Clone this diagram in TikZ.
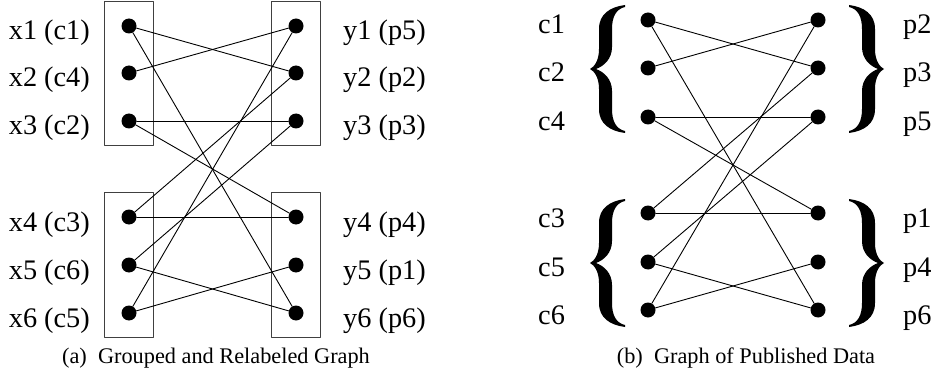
\documentclass[tikz,border=0pt]{standalone}
\usepackage{fontspec}
\setmainfont{Liberation Serif}
\usetikzlibrary{fit}

\begin{document}
\begin{tikzpicture}[x=1pt,y=-1pt,line cap=round,line join=round]
\useasboundingbox (0,0) rectangle (937,377);
\tikzset{dot/.style={circle,fill=black,inner sep=0pt,minimum size=15pt},edge/.style={draw=black,line width=0.9pt},groupbox/.style={draw=black!75,line width=1pt,inner sep=16.5pt},lbl/.style={font=\fontsize{28.3}{32}\selectfont,inner sep=0pt},captext/.style={font=\fontsize{22.3}{26}\selectfont,inner sep=0pt}}
\tikzset{leftbrace/.pic={\fill (17,-64) .. controls (2,-62) and (-9,-55) .. (-9,-40) -- (-9,-20) .. controls (-9,-8) and (-14,-2) .. (-18,0) .. controls (-14,2) and (-9,8) .. (-9,20) -- (-9,40) .. controls (-9,55) and (2,62) .. (17,64) -- (17,62) .. controls (8,60) and (4,52) .. (4,40) -- (4,22) .. controls (4,10) and (-4,3) .. (-12,0) .. controls (-4,-3) and (4,-10) .. (4,-22) -- (4,-40) .. controls (4,-52) and (8,-60) .. (17,-62) -- cycle;}}
% (a) grouped and relabeled graph
\node[dot] (x1) at (129,26) {}; \node[dot] (x2) at (129,73) {}; \node[dot] (x3) at (129,121) {};
\node[dot] (x4) at (129,217) {}; \node[dot] (x5) at (129,265) {}; \node[dot] (x6) at (129,313) {};
\node[dot] (y1) at (296,26) {}; \node[dot] (y2) at (296,73) {}; \node[dot] (y3) at (296,121) {};
\node[dot] (y4) at (296,217) {}; \node[dot] (y5) at (296,265) {}; \node[dot] (y6) at (296,313) {};
\node[groupbox,fit=(x1)(x3)] (gx1) {}; \node[groupbox,fit=(x4)(x6)] (gx2) {};
\node[groupbox,fit=(y1)(y3)] (gy1) {}; \node[groupbox,fit=(y4)(y6)] (gy2) {};
\draw[edge] (x1) -- (y2); \draw[edge] (x1) -- (y6); \draw[edge] (x2) -- (y1);
\draw[edge] (x3) -- (y3); \draw[edge] (x3) -- (y4); \draw[edge] (x4) -- (y2);
\draw[edge] (x4) -- (y4); \draw[edge] (x5) -- (y3); \draw[edge] (x5) -- (y6);
\draw[edge] (x6) -- (y1); \draw[edge] (x6) -- (y5);
\node[lbl,anchor=base east] (lx1) at (90,40) {x1 (c1)};
\node[lbl,anchor=base east] (lx2) at (90,87) {x2 (c4)};
\node[lbl,anchor=base east] (lx3) at (90,135) {x3 (c2)};
\node[lbl,anchor=base east] (lx4) at (90,231) {x4 (c3)};
\node[lbl,anchor=base east] (lx5) at (90,279) {x5 (c6)};
\node[lbl,anchor=base east] (lx6) at (90,327) {x6 (c5)};
\node[lbl,anchor=base west] (ly1) at (343,40) {y1 (p5)};
\node[lbl,anchor=base west] (ly2) at (343,87) {y2 (p2)};
\node[lbl,anchor=base west] (ly3) at (343,135) {y3 (p3)};
\node[lbl,anchor=base west] (ly4) at (343,231) {y4 (p4)};
\node[lbl,anchor=base west] (ly5) at (343,279) {y5 (p1)};
\node[lbl,anchor=base west] (ly6) at (343,327) {y6 (p6)};
\node[captext] (capa) at (216,358) {(a)\hspace{0.5em}Grouped and Relabeled Graph};
% (b) graph of published data
\node[dot] (c1) at (648,20) {}; \node[dot] (c2) at (648,68) {}; \node[dot] (c4) at (648,117) {};
\node[dot] (c3) at (648,213) {}; \node[dot] (c5) at (648,262) {}; \node[dot] (c6) at (648,310) {};
\node[dot] (p2) at (818,20) {}; \node[dot] (p3) at (818,68) {}; \node[dot] (p5) at (818,117) {};
\node[dot] (p1) at (818,213) {}; \node[dot] (p4) at (818,262) {}; \node[dot] (p6) at (818,310) {};
\draw[edge] (c1) -- (p3); \draw[edge] (c1) -- (p6); \draw[edge] (c2) -- (p2);
\draw[edge] (c4) -- (p5); \draw[edge] (c4) -- (p1); \draw[edge] (c3) -- (p3);
\draw[edge] (c3) -- (p1); \draw[edge] (c5) -- (p5); \draw[edge] (c5) -- (p6);
\draw[edge] (c6) -- (p2); \draw[edge] (c6) -- (p4);
\pic at (608,69) {leftbrace}; \pic at (608,263) {leftbrace};
\pic[xscale=-1] at (866,69) {leftbrace}; \pic[xscale=-1] at (866,263) {leftbrace};
\node[lbl,anchor=base west] (lc1) at (538,34) {c1};
\node[lbl,anchor=base west] (lc2) at (538,82) {c2};
\node[lbl,anchor=base west] (lc4) at (538,131) {c4};
\node[lbl,anchor=base west] (lc3) at (538,227) {c3};
\node[lbl,anchor=base west] (lc5) at (538,276) {c5};
\node[lbl,anchor=base west] (lc6) at (538,324) {c6};
\node[lbl,anchor=base west] (lp2) at (903,34) {p2};
\node[lbl,anchor=base west] (lp3) at (903,82) {p3};
\node[lbl,anchor=base west] (lp5) at (903,131) {p5};
\node[lbl,anchor=base west] (lp1) at (903,227) {p1};
\node[lbl,anchor=base west] (lp4) at (903,276) {p4};
\node[lbl,anchor=base west] (lp6) at (903,324) {p6};
\node[captext] (capb) at (746,358) {(b)\hspace{0.5em}Graph of Published Data};
\end{tikzpicture}
\end{document}
